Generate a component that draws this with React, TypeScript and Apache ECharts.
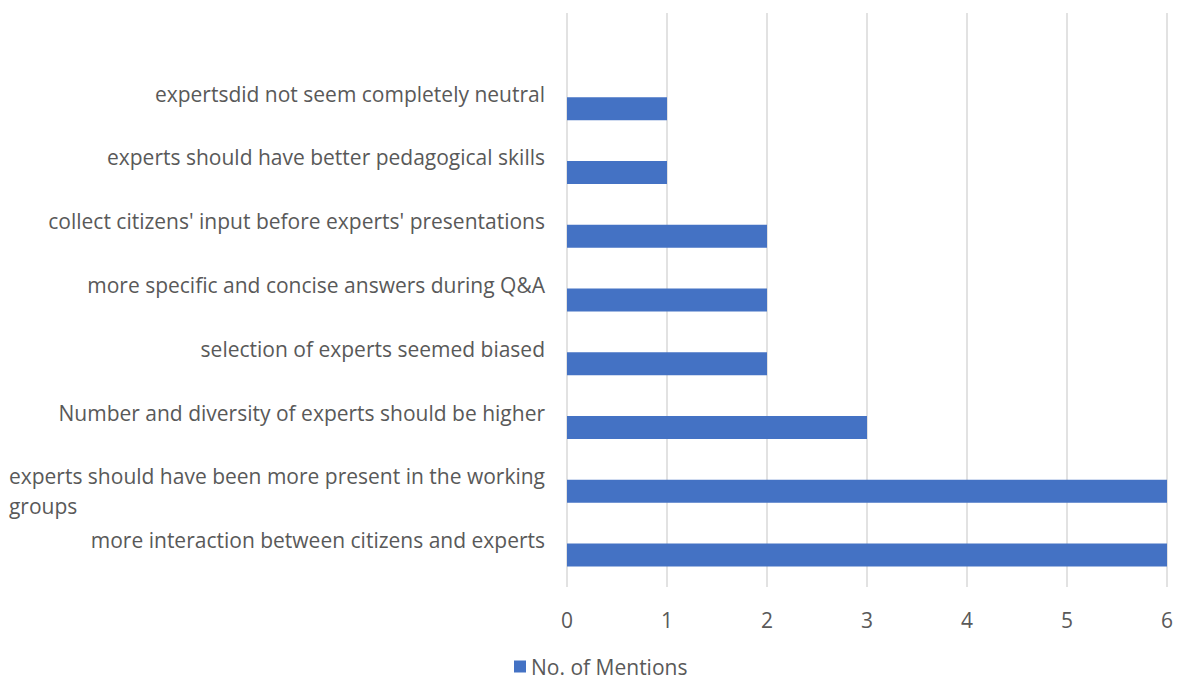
import React, { useEffect, useRef } from "react";
import * as echarts from "echarts";

const categories: string[] = [
  "",
  "expertsdid not seem completely neutral",
  "experts should have better pedagogical skills",
  "collect citizens' input before experts' presentations",
  "more specific and concise answers during Q&A",
  "selection of experts seemed biased",
  "Number and diversity of experts should be higher",
  "experts should have been more present in the working\ngroups",
  "more interaction between citizens and experts",
];

const mentions: (number | null)[] = [null, 1, 1, 2, 2, 2, 3, 6, 6];

const seriesName = "No. of Mentions";
const FONT = "Open Sans";
const TEXT = "#595959";
const LABEL_SIZE = 21;

export default function App() {
  const ref = useRef<HTMLDivElement>(null);
  useEffect(() => {
    if (!ref.current) return;
    const chart = echarts.init(ref.current, undefined, { renderer: "svg" });
    chart.setOption({
      animation: false,
      textStyle: { fontFamily: FONT },
      grid: { left: 567, right: 13, top: 13, bottom: 94, containLabel: false },
      legend: {
        show: true,
        left: 509,
        top: 651,
        padding: 5,
        itemWidth: 12,
        itemHeight: 12,
        itemGap: 7,
        icon: "rect",
        textStyle: { fontFamily: FONT, fontSize: 21, lineHeight: 20, color: TEXT },
        data: [seriesName],
      },
      xAxis: {
        type: "value",
        min: 0,
        max: 6,
        interval: 1,
        axisLine: { show: false },
        axisTick: { show: false },
        splitLine: { show: true, lineStyle: { color: "#D9D9D9", width: 1.5 } },
        axisLabel: { fontFamily: FONT, fontSize: 21, color: TEXT, margin: 22 },
      },
      yAxis: {
        type: "category",
        inverse: true,
        data: categories,
        axisLine: { show: false },
        axisTick: { show: false },
        splitLine: { show: false },
        axisLabel: {
          fontFamily: FONT,
          fontSize: LABEL_SIZE,
          color: TEXT,
          margin: 22,
          lineHeight: 30,
          align: "right",
          interval: 0,
          formatter: (v: string) => {
            if (v === "") return "";
            const lines = v.split("\n");
            if (lines.length === 1) lines.push(" ");
            return lines.map((l) => `{l|${l}}`).join("\n");
          },
          rich: {
            l: {
              align: "left",
              fontFamily: FONT,
              fontSize: LABEL_SIZE,
              lineHeight: 30,
              color: TEXT,
            },
          },
        },
      },
      series: [
        {
          name: seriesName,
          type: "bar",
          data: mentions,
          barWidth: 23,
          itemStyle: { color: "#4472C4" },
        },
      ],
    });
    return () => chart.dispose();
  }, []);
  return (
    <div
      ref={ref}
      style={{ position: "fixed", left: 0, top: 0, width: 1180, height: 681, background: "#fff" }}
    />
  );
}
